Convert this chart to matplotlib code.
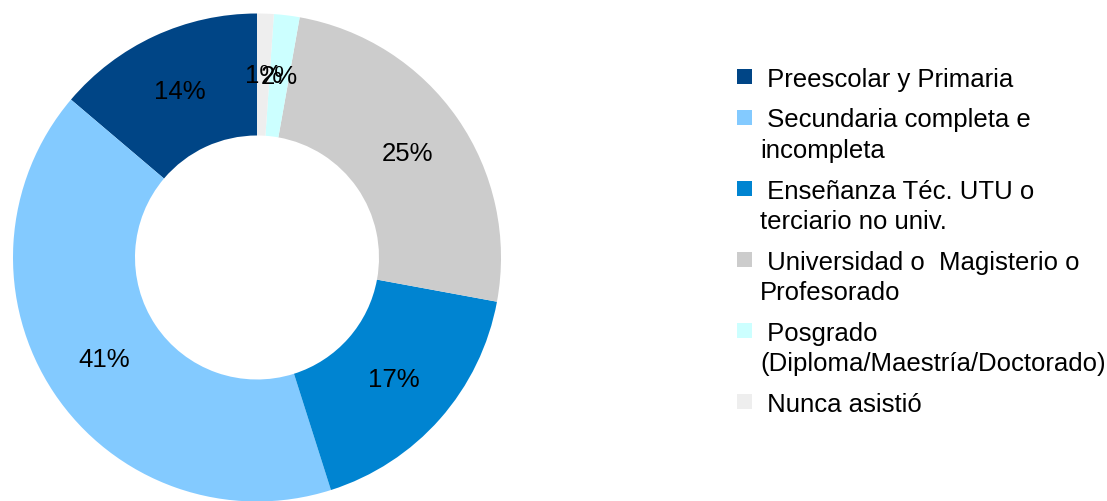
import matplotlib
matplotlib.use("Agg")
import matplotlib.pyplot as plt
from matplotlib.patches import Rectangle

plt.rcParams["font.family"] = ["Liberation Sans", "DejaVu Sans"]

categories = [
    "Preescolar y Primaria",
    "Secundaria completa e\nincompleta",
    "Enseñanza Téc. UTU o\nterciario no univ.",
    "Universidad o  Magisterio o\nProfesorado",
    "Posgrado\n(Diploma/Maestría/Doctorado)",
    "Nunca asistió",
]
shares = [13.8, 41.1, 17.2, 25.1, 1.7, 1.1]
colors = ["#004586", "#83CAFF", "#0084D1", "#CCCCCC", "#CCFFFF", "#EEEEEE"]

W, H = 1107, 502
FS = 18.5
fig = plt.figure(figsize=(W / 100, H / 100), dpi=100)

# donut axes, placed in pixel coordinates
cx, cy, r = 257, 258.5, 244
ax = fig.add_axes([(cx - r) / W, (H - cy - r) / H, 2 * r / W, 2 * r / H])
ax.pie(
    shares,
    colors=colors,
    startangle=90,
    counterclock=True,
    radius=1.0,
    wedgeprops=dict(width=0.5, linewidth=0),
    autopct="%1.0f%%",
    pctdistance=0.75,
    textprops=dict(fontsize=FS, color="black"),
)
ax.set_xlim(-1, 1)
ax.set_ylim(-1, 1)
ax.set_aspect("equal")
ax.axis("off")

# legend drawn by hand: square beside the first line, wrapped lines below
line_h = 30.3
gap = 40.8
baseline = 86.7
sq = 15
for label, color in zip(categories, colors):
    lines = label.split("\n")
    fig.patches.append(
        Rectangle((737 / W, (H - baseline + 1.5) / H), sq / W, sq / H,
                  transform=fig.transFigure, facecolor=color, edgecolor="none")
    )
    for i, line in enumerate(lines):
        txt = " " + line if i == 0 else line
        fig.text(760 / W, (H - baseline) / H, txt, fontsize=FS,
                 va="baseline", ha="left")
        if i < len(lines) - 1:
            baseline += line_h
    baseline += gap

fig.savefig("out.png", dpi=100)
